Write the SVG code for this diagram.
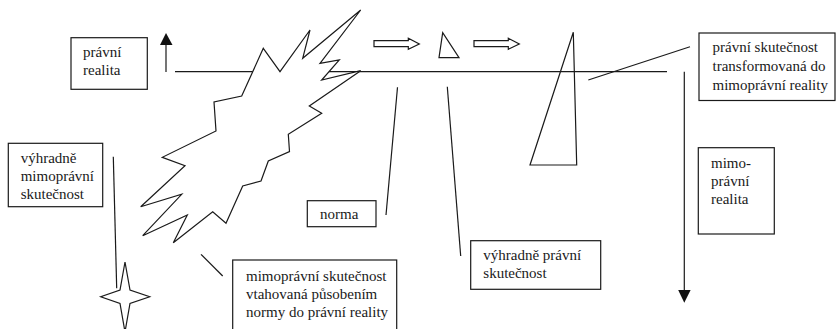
<svg xmlns="http://www.w3.org/2000/svg" width="840" height="329" viewBox="0 0 840 329">
  <style>
    .ln { stroke: #1a1a1a; stroke-width: 1.2; fill: none; }
    .box { stroke: #1a1a1a; stroke-width: 1.2; fill: #ffffff; }
    .shape { stroke: #1a1a1a; stroke-width: 1.2; fill: #ffffff; stroke-linejoin: miter; }
    .head { fill: #111111; stroke: none; }
  </style>
  <rect width="840" height="329" fill="#ffffff"/>

  <!-- connectors and axis lines -->
  <g id="connectors">
    <!-- main horizontal axis -->
    <line class="ln" x1="175" y1="71.7" x2="667" y2="71.7"/>
    <!-- upward arrow (legal reality) -->
    <line class="ln" x1="166" y1="72" x2="166" y2="44"/>
    <polygon class="head" points="160,45 172.5,45 166,33"/>
    <!-- downward arrow (non-legal reality) -->
    <line class="ln" x1="684.3" y1="71.7" x2="684.3" y2="291"/>
    <polygon class="head" points="678.2,290 690.6,290 684.3,302.8"/>
    <!-- leader lines -->
    <line class="ln" x1="113.3" y1="156.7" x2="116.7" y2="288.3"/>
    <line class="ln" x1="201" y1="254.3" x2="222.7" y2="276"/>
    <line class="ln" x1="397.5" y1="87.3" x2="386" y2="215"/>
    <line class="ln" x1="447.3" y1="86.7" x2="460.7" y2="256"/>
    <line class="ln" x1="588.3" y1="80" x2="690" y2="46.7"/>
  </g>

  <!-- explosion: non-legal fact pulled into legal reality -->
  <g id="explosion">
    <polygon class="shape" points="263.3,48.3 280,71.7 310,30 302.7,58.3 360.7,10 320,63.3 339.3,60 321.7,80 360.7,70.7 309.3,106 321.7,113.3 288.3,134.3 289.5,151.5 268.3,161 261,181 242.7,186 226,223.3 212.7,211.7 173.3,242.7 187.3,215 142.7,235.7 181.7,194.3 140.7,206.7 185,165.7 162.3,157.3 216,131 214,102 241.7,96"/>
  </g>

  <!-- hollow arrows and the norm triangle -->
  <g id="arrow1">
    <polygon class="shape" points="374,40.7 408.3,40.7 408.3,38.3 419.3,44 408.3,49.3 408.3,46.7 374,46.7"/>
  </g>
  <g id="small-triangle">
    <polygon class="shape" points="442.7,32.7 439,57.7 459,57.7"/>
  </g>
  <g id="arrow2">
    <polygon class="shape" points="474,40.7 508.3,40.7 508.3,38.3 519.3,44 508.3,49.3 508.3,46.7 474,46.7"/>
  </g>

  <!-- tall triangle: legal fact transformed into non-legal reality -->
  <g id="tall-triangle">
    <polygon class="ln" points="573.3,32.3 530,165 576.7,165"/>
  </g>

  <!-- four-pointed star: exclusively non-legal fact -->
  <g id="star">
    <polygon class="shape" points="125,262 130,290 149.7,296.7 130,303.5 125,332 120,303.5 100.7,296.7 120,290"/>
  </g>

  <!-- labelled boxes -->
  <g font-family="Liberation Serif, Times New Roman, serif" font-size="15" fill="#1a1a1a">
    <g id="pravni-realita">
      <rect class="box" x="71" y="37.7" width="76.3" height="51.6"/>
      <text x="83" y="57">právní</text>
      <text x="83" y="75">realita</text>
    </g>

    <g id="vyhradne-mimopravni">
      <rect class="box" x="8.3" y="143.3" width="94.4" height="63.4"/>
      <text x="20.7" y="162.5">výhradně</text>
      <text x="20.7" y="180.5">mimoprávní</text>
      <text x="20.7" y="198.5">skutečnost</text>
    </g>

    <g id="norma">
      <rect class="box" x="307.3" y="200.7" width="68.7" height="26"/>
      <text x="320" y="219">norma</text>
    </g>

    <g id="vtahovana">
      <rect class="box" x="232.7" y="260" width="164" height="80"/>
      <text x="246" y="281">mimoprávní skutečnost</text>
      <text x="246" y="299">vtahovaná působením</text>
      <text x="246" y="317">normy do právní reality</text>
    </g>

    <g id="vyhradne-pravni">
      <rect class="box" x="470.7" y="240.7" width="130" height="48.6"/>
      <text x="483.3" y="260">výhradně právní</text>
      <text x="483.3" y="278.3">skutečnost</text>
    </g>

    <g id="transformovana">
      <rect class="box" x="699" y="33" width="136" height="67.5"/>
      <text x="712.5" y="52.3">právní skutečnost</text>
      <text x="712.5" y="71">transformovaná do</text>
      <text x="712.5" y="89.7">mimoprávní reality</text>
    </g>

    <g id="mimopravni-realita">
      <rect class="box" x="698.3" y="147.7" width="76" height="86.3"/>
      <text x="711" y="168">mimo-</text>
      <text x="711" y="186">právní</text>
      <text x="711" y="204">realita</text>
    </g>
  </g>
</svg>
